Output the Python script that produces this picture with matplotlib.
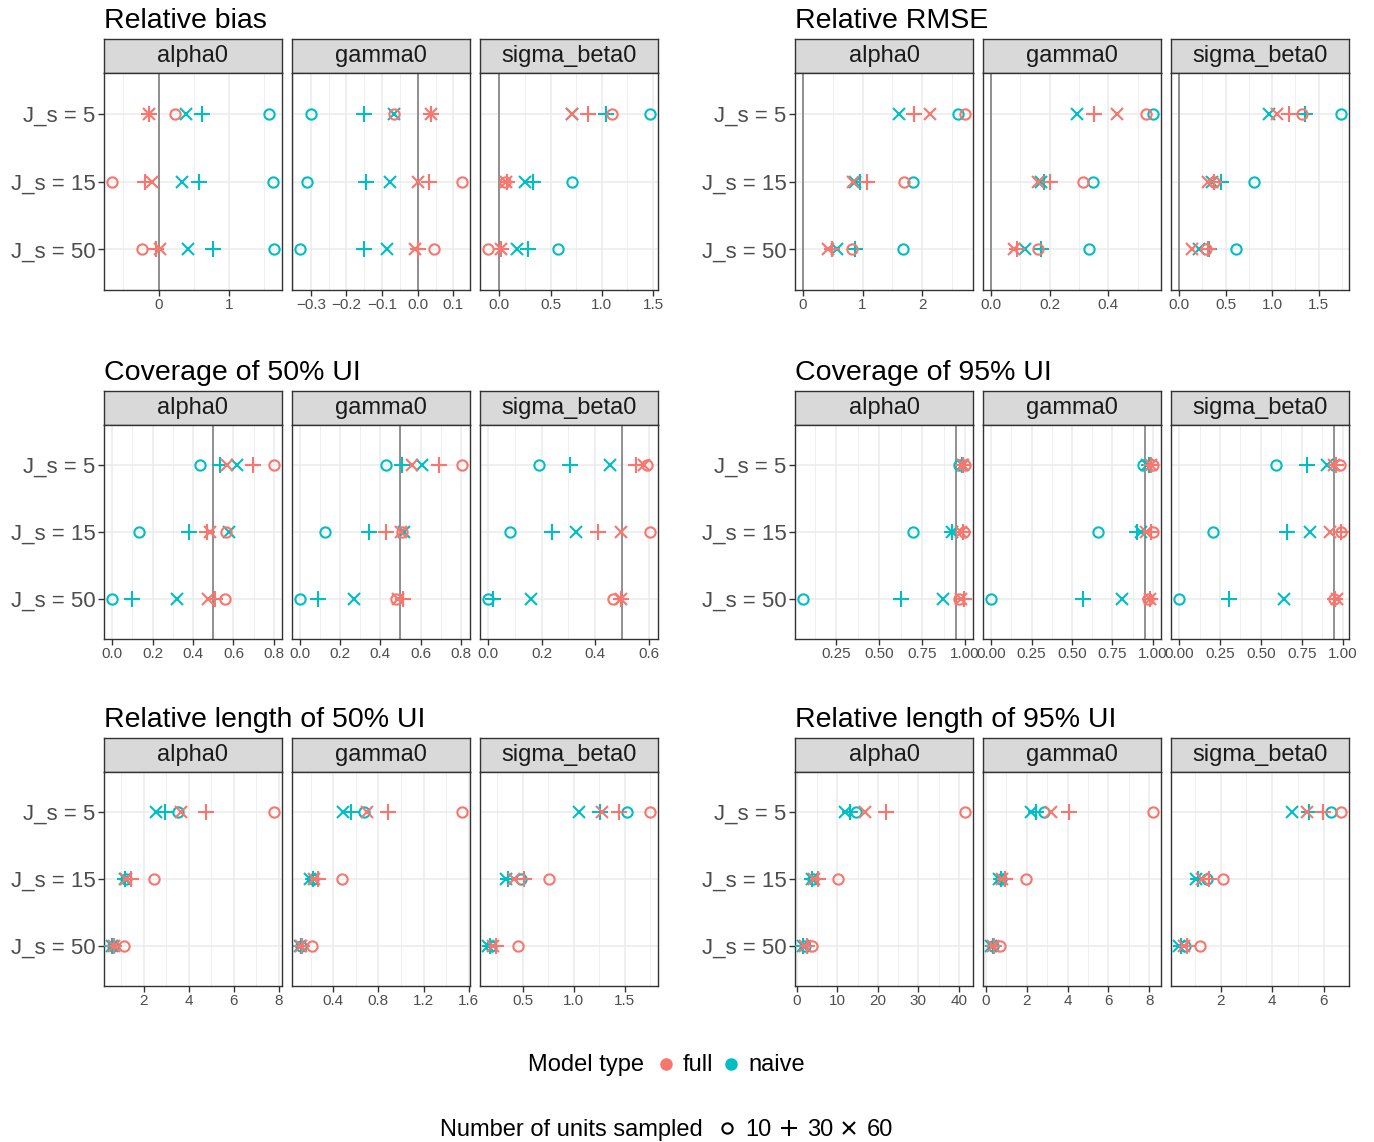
import numpy as np
import matplotlib
matplotlib.use('Agg')
import matplotlib.pyplot as plt
from matplotlib.lines import Line2D

plt.rcParams['font.family'] = ['Liberation Sans', 'DejaVu Sans']

facets = ['alpha0', 'gamma0', 'sigma_beta0']
js_labels = ['J_s = 5', 'J_s = 15', 'J_s = 50']
units = [10, 30, 60]
model_names = ['full', 'naive']
model_colors = ['#F8766D', '#00BFC4']
unit_markers = ['o', '+', 'x']

# values: [facet][J_s = 5, 15, 50][units 10, 30, 60]
bias_full = [
    [[0.23, -0.14, -0.14], [-0.66, -0.19, -0.09], [-0.23, -0.04, 0.02]],
    [[-0.066, 0.037, 0.037], [0.124, 0.031, 0.002], [0.045, 0.002, -0.009]],
    [[1.10, 0.87, 0.71], [0.055, 0.07, 0.06], [-0.11, 0.016, 0.016]],
]
bias_naive = [
    [[1.57, 0.62, 0.39], [1.63, 0.58, 0.34], [1.64, 0.78, 0.42]],
    [[-0.30, -0.15, -0.066], [-0.312, -0.144, -0.079], [-0.33, -0.152, -0.085]],
    [[1.47, 1.04, 0.71], [0.71, 0.33, 0.25], [0.57, 0.28, 0.17]],
]
rmse_full = [
    [[2.72, 1.87, 2.14], [1.69, 1.07, 0.84], [0.82, 0.48, 0.42]],
    [[0.530, 0.352, 0.429], [0.313, 0.200, 0.161], [0.159, 0.090, 0.079]],
    [[1.32, 1.18, 1.05], [0.37, 0.38, 0.31], [0.29, 0.31, 0.14]],
]
rmse_naive = [
    [[2.60, 1.87, 1.61], [1.84, 0.95, 0.88], [1.68, 0.88, 0.57]],
    [[0.552, 0.352, 0.293], [0.349, 0.18, 0.169], [0.335, 0.170, 0.114]],
    [[1.74, 1.35, 0.97], [0.81, 0.45, 0.35], [0.61, 0.32, 0.21]],
]
cov50_full = [
    [[0.80, 0.695, 0.568], [0.563, 0.468, 0.485], [0.558, 0.51, 0.476]],
    [[0.806, 0.69, 0.558], [0.51, 0.429, 0.503], [0.478, 0.515, 0.49]],
    [[0.594, 0.553, 0.582], [0.605, 0.412, 0.498], [0.467, 0.498, 0.498]],
]
cov50_naive = [
    [[0.437, 0.535, 0.616], [0.131, 0.378, 0.576], [0.0, 0.10, 0.322]],
    [[0.429, 0.506, 0.607], [0.125, 0.342, 0.52], [0.0, 0.09, 0.27]],
    [[0.192, 0.307, 0.457], [0.081, 0.239, 0.329], [0.0, 0.02, 0.159]],
]
cov95_full = [
    [[1.0, 0.99, 0.99], [0.996, 0.99, 0.975], [0.965, 0.996, 0.977]],
    [[1.0, 0.99, 0.99], [1.0, 0.99, 0.955], [0.97, 0.985, 0.98]],
    [[0.983, 0.96, 0.947], [0.99, 0.99, 0.923], [0.947, 0.955, 0.967]],
]
cov95_naive = [
    [[0.965, 0.985, 0.985], [0.694, 0.926, 0.926], [0.055, 0.624, 0.874]],
    [[0.94, 0.975, 0.965], [0.659, 0.904, 0.925], [0.0, 0.567, 0.808]],
    [[0.592, 0.781, 0.906], [0.209, 0.659, 0.801], [0.0, 0.304, 0.643]],
]
len50_full = [
    [[7.79, 4.79, 3.64], [2.46, 1.45, 1.2], [1.11, 0.68, 0.66]],
    [[1.54, 0.885, 0.703], [0.474, 0.268, 0.23], [0.215, 0.12, 0.11]],
    [[1.749, 1.445, 1.275], [0.758, 0.51, 0.413], [0.458, 0.242, 0.21]],
]
len50_naive = [
    [[3.52, 2.93, 2.56], [1.2, 1.16, 1.16], [0.63, 0.59, 0.59]],
    [[0.671, 0.556, 0.488], [0.218, 0.218, 0.194], [0.115, 0.115, 0.106]],
    [[1.523, 1.258, 1.055], [0.484, 0.355, 0.339], [0.19, 0.177, 0.161]],
]
len95_full = [
    [[41.5, 22.0, 16.7], [10.2, 5.1, 4.2], [3.6, 2.4, 2.0]],
    [[8.18, 4.07, 3.19], [1.98, 0.93, 0.8], [0.69, 0.42, 0.37]],
    [[6.67, 5.97, 5.36], [2.10, 1.53, 1.27], [1.21, 0.70, 0.57]],
]
len95_naive = [
    [[14.5, 13.0, 11.8], [3.9, 3.6, 3.6], [1.9, 1.6, 1.5]],
    [[2.83, 2.46, 2.22], [0.74, 0.74, 0.66], [0.36, 0.34, 0.26]],
    [[6.28, 5.42, 4.76], [1.46, 1.1, 1.05], [0.6, 0.45, 0.38]],
]

# x breaks per facet
bias_ticks = [[0, 1], [-0.3, -0.2, -0.1, 0.0, 0.1], [0.0, 0.5, 1.0, 1.5]]
bias_labels = [['0', '1'], ['\u22120.3', '\u22120.2', '\u22120.1', '0.0', '0.1'], ['0.0', '0.5', '1.0', '1.5']]
rmse_ticks = [[0, 1, 2], [0.0, 0.2, 0.4], [0.0, 0.5, 1.0, 1.5]]
rmse_labels = [['0', '1', '2'], ['0.0', '0.2', '0.4'], ['0.0', '0.5', '1.0', '1.5']]
cov50_ticks = [[0.0, 0.2, 0.4, 0.6, 0.8], [0.0, 0.2, 0.4, 0.6, 0.8], [0.0, 0.2, 0.4, 0.6]]
cov50_labels = [['0.0', '0.2', '0.4', '0.6', '0.8'], ['0.0', '0.2', '0.4', '0.6', '0.8'], ['0.0', '0.2', '0.4', '0.6']]
cov95_ticks = [[0.25, 0.5, 0.75, 1.0], [0.0, 0.25, 0.5, 0.75, 1.0], [0.0, 0.25, 0.5, 0.75, 1.0]]
cov95_labels = [['0.25', '0.50', '0.75', '1.00'], ['0.00', '0.25', '0.50', '0.75', '1.00'],
                ['0.00', '0.25', '0.50', '0.75', '1.00']]
len50_ticks = [[2, 4, 6, 8], [0.4, 0.8, 1.2, 1.6], [0.5, 1.0, 1.5]]
len50_labels = [['2', '4', '6', '8'], ['0.4', '0.8', '1.2', '1.6'], ['0.5', '1.0', '1.5']]
len95_ticks = [[0, 10, 20, 30, 40], [0, 2, 4, 6, 8], [2, 4, 6]]
len95_labels = [['0', '10', '20', '30', '40'], ['0', '2', '4', '6', '8'], ['2', '4', '6']]

W, H = 1374, 1142
fig = plt.figure(figsize=(W / 100, H / 100), dpi=100)


def px_axes(left, top, width, height):
    return fig.add_axes([left / W, 1 - (top + height) / H, width / W, height / H])


def draw_panel(col_left, strip_top, panel_h, title, full, naive, ref, ticks, labels):
    fig.text(col_left / W, 1 - (strip_top - 11) / H, title, fontsize=20.5,
             ha='left', va='baseline', color='black')
    for k in range(3):
        left = col_left + k * 188
        st = px_axes(left, strip_top, 178, 34)
        st.set_facecolor('#D9D9D9')
        st.set_xticks([])
        st.set_yticks([])
        for s in st.spines.values():
            s.set_color('#333333')
            s.set_linewidth(1.0)
        st.text(0.5, 0.5, facets[k], transform=st.transAxes, ha='center', va='center',
                fontsize=17, color='#1A1A1A')

        ax = px_axes(left, strip_top + 34, 178, panel_h)
        allv = [np.ravel(full[k]), np.ravel(naive[k])]
        if ref is not None:
            allv.append([ref])
        allv = np.concatenate(allv)
        lo, hi = allv.min(), allv.max()
        pad = 0.05 * (hi - lo)
        ax.set_xlim(lo - pad, hi + pad)
        ax.set_ylim(3.6, 0.4)

        tk = ticks[k]
        step = tk[1] - tk[0]
        minor = np.arange(tk[0] - step / 2, tk[-1] + step, step)
        minor = minor[(minor > lo - pad) & (minor < hi + pad)]
        ax.set_xticks(tk)
        ax.set_xticklabels(labels[k])
        ax.set_xticks(minor, minor=True)
        ax.set_yticks([1, 2, 3])
        if k == 0:
            ax.set_yticklabels(js_labels)
        else:
            ax.set_yticklabels([])
            ax.tick_params(axis='y', length=0)
        ax.grid(which='major', color='#EBEBEB', lw=1.1)
        ax.grid(which='minor', axis='x', color='#EBEBEB', lw=0.55)
        ax.set_axisbelow(True)
        ax.tick_params(axis='x', which='major', length=4, width=1, color='#333333',
                       labelsize=11, labelcolor='#4D4D4D', pad=2)
        ax.tick_params(axis='x', which='minor', length=0)
        if k == 0:
            ax.tick_params(axis='y', length=4, width=1, color='#333333',
                           labelsize=16, labelcolor='#4D4D4D', pad=2)
        for s in ax.spines.values():
            s.set_color('#333333')
            s.set_linewidth(1.0)

        if ref is not None:
            ax.axvline(ref, color='#7F7F7F', lw=1.2, zorder=2)

        ys = [1, 2, 3]
        for vals, col in [(naive[k], model_colors[1]), (full[k], model_colors[0])]:
            arr = np.array(vals)
            for u, mk in enumerate(unit_markers):
                if mk == 'o':
                    ax.plot(arr[:, u], ys, ls='none', marker='o', ms=7.4, mfc='none',
                            mec=col, mew=1.5, zorder=3)
                elif mk == '+':
                    ax.plot(arr[:, u], ys, ls='none', marker='+', ms=11, mec=col,
                            mew=1.5, zorder=3)
                else:
                    ax.plot(arr[:, u], ys, ls='none', marker='x', ms=8.5, mec=col,
                            mew=1.5, zorder=3)


draw_panel(104, 39, 217, 'Relative bias', bias_full, bias_naive, 0.0, bias_ticks, bias_labels)
draw_panel(795, 39, 217, 'Relative RMSE', rmse_full, rmse_naive, 0.0, rmse_ticks, rmse_labels)
draw_panel(104, 391, 214, 'Coverage of 50% UI', cov50_full, cov50_naive, 0.5, cov50_ticks, cov50_labels)
draw_panel(795, 391, 214, 'Coverage of 95% UI', cov95_full, cov95_naive, 0.95, cov95_ticks, cov95_labels)
draw_panel(104, 738, 214, 'Relative length of 50% UI', len50_full, len50_naive, None, len50_ticks, len50_labels)
draw_panel(795, 738, 214, 'Relative length of 95% UI', len95_full, len95_naive, None, len95_ticks, len95_labels)


# legends at the bottom
def fx(x):
    return x / W


def fy(y):
    return 1 - y / H


fig.text(fx(528), fy(1071), 'Model type', fontsize=17, ha='left', va='baseline')
for x, col, name, tx in [(666, model_colors[0], model_names[0], 683),
                         (731, model_colors[1], model_names[1], 748)]:
    fig.add_artist(Line2D([fx(x)], [fy(1064)], transform=fig.transFigure, marker='o',
                          ms=8, mfc=col, mec=col, ls='none'))
    fig.text(fx(tx), fy(1071), name, fontsize=17, ha='left', va='baseline')

fig.text(fx(440), fy(1136), 'Number of units sampled', fontsize=17, ha='left', va='baseline')
for x, mk, n, tx in [(727, 'o', units[0], 745), (789, '+', units[1], 807), (849, 'x', units[2], 867)]:
    size = {'o': 7.4, '+': 11, 'x': 8.5}[mk]
    fig.add_artist(Line2D([fx(x)], [fy(1128)], transform=fig.transFigure, marker=mk,
                          ms=size, mfc='none', mec='black', mew=1.5, ls='none'))
    fig.text(fx(tx), fy(1136), str(n), fontsize=17, ha='left', va='baseline')

fig.savefig('out.png', dpi=100)
